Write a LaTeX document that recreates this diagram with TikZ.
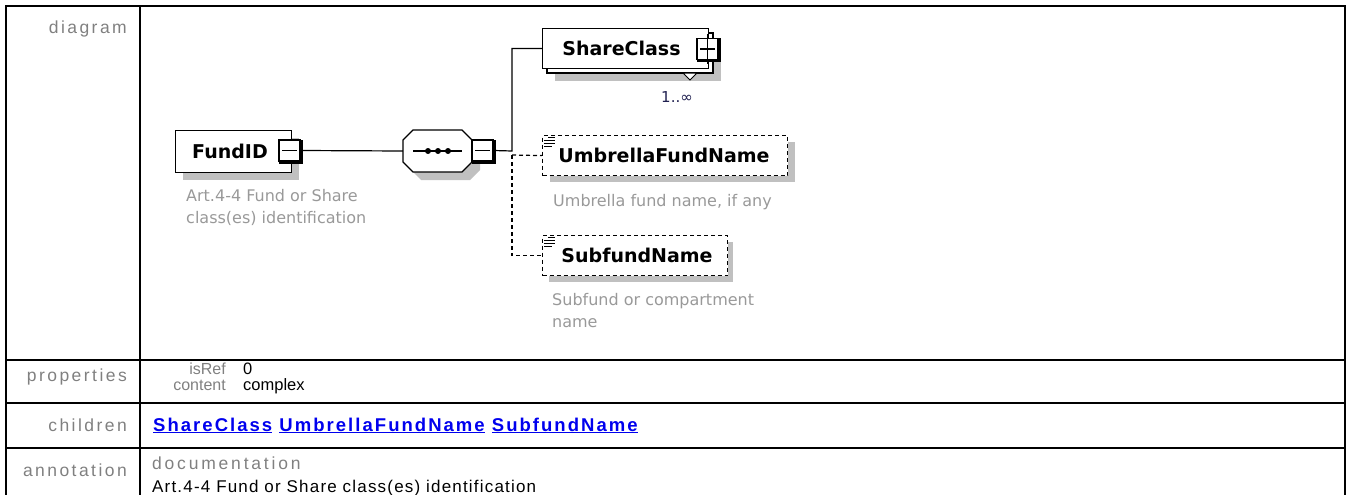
\documentclass[tikz,border=0pt]{standalone}
\usepackage{fontspec}
\setmainfont{Liberation Sans}
\newfontfamily\tlab[LetterSpace=14]{Liberation Sans}
\newfontfamily\tdoc[LetterSpace=16]{Liberation Sans}
\newfontfamily\tart[LetterSpace=7]{Liberation Sans}
\newfontfamily\tlink[LetterSpace=11]{Liberation Sans}
\newfontfamily\djs{DejaVu Sans}
\definecolor{lblgray}{HTML}{808080}
\definecolor{descgray}{HTML}{999999}
\definecolor{shadowgray}{HTML}{C0C0C0}
\definecolor{linkblue}{HTML}{0000EE}
\definecolor{occcol}{HTML}{202050}
\tikzset{
  tline/.style={line width=2pt, black},
  elbox/.style={draw=black, line width=1.2pt, fill=white, inner sep=0pt, anchor=north west},
  dashbox/.style={elbox, dash pattern=on 4pt off 3pt},
  conn/.style={line width=1.2pt},
  dconn/.style={line width=1.2pt, dash pattern=on 4pt off 3pt},
  ename/.style={font=\djs\bfseries\fontsize{19}{22}\selectfont, text=black, inner sep=0pt},
  desc/.style={font=\djs\fontsize{16}{22}\selectfont, text=descgray, align=left, anchor=base west, inner sep=0pt},
  rowlab/.style={font=\tlab\fontsize{17.5}{19}\selectfont, text=lblgray, anchor=base east, inner sep=0pt},
  proplab/.style={font=\fontsize{16}{19}\selectfont, text=lblgray, anchor=base east, inner sep=0pt},
  propval/.style={font=\fontsize{16.5}{19}\selectfont, text=black, anchor=base west, inner sep=0pt},
  minbox/.style={draw=black, line width=1.2pt, fill=white, minimum size=21pt, inner sep=0pt},
}
\begin{document}
\begin{tikzpicture}[x=1pt,y=-1pt]
\useasboundingbox (0,0) rectangle (1346,495);
% ---------- table ----------
\draw[tline] (5,6.5) -- (1346,6.5);
\draw[tline] (6,6.5) -- (6,495);
\draw[tline] (1345,6.5) -- (1345,495);
\draw[tline] (140,6.5) -- (140,495);
\draw[tline] (6,360) -- (1345,360);
\draw[tline] (6,403) -- (1345,403);
\draw[tline] (6,448) -- (1345,448);
\node[rowlab] (lDiag) at (127,34) {diagram};
\node[rowlab] (lProp) at (127,381) {properties};
\node[rowlab] (lChild) at (127,431) {children};
\node[rowlab] (lAnn) at (127,476) {annotation};
\node[proplab] (pIsRef) at (226,374) {isRef};
\node[proplab] (pContent) at (226,390) {content};
\node[propval] (vIsRef) at (243,374) {0};
\node[propval] (vContent) at (243,390) {complex};
\node[font=\tlink\bfseries\fontsize{18.5}{20}\selectfont, text=linkblue, anchor=base west, inner sep=0pt] (links) at (153,431)
  {\underline{ShareClass} \underline{UmbrellaFundName} \underline{SubfundName}};
\node[font=\tdoc\fontsize{17.5}{19}\selectfont, text=lblgray, anchor=base west, inner sep=0pt] (docl) at (152,469) {documentation};
\node[font=\tart\fontsize{17}{19}\selectfont, text=black, anchor=base west, inner sep=0pt] (doct) at (152,492) {Art.4-4 Fund or Share class(es) identification};
% ---------- FundID ----------
\fill[shadowgray] (183,138) rectangle (299,180);
\node[elbox, minimum width=116pt, minimum height=42pt] (fundid) at (175,130) {};
\node[ename] (fundidT) at (230,151) {FundID};
\node[minbox] (fundidM) at (289.5,150.5) {};
\draw[line width=2.4pt] ([shift={(0.5,1.2)}]fundidM.south west) -- ([shift={(1.2,1.2)}]fundidM.south east) -- ([shift={(1.2,0.5)}]fundidM.north east);
\draw[line width=1.2pt] ([xshift=4pt]fundidM.west) -- ([xshift=-4pt]fundidM.east);
\node[desc] (fundidD) at (186,223) {Art.4-4 Fund or Share\\class(es) identification};
% ---------- sequence ----------
\fill[shadowgray, shift={(8,8)}] (413,130) -- (462,130) -- (472,140) -- (472,162) -- (462,172) -- (413,172) -- (403,162) -- (403,140) -- cycle;
\draw[line width=1.2pt, fill=white] (413,130) -- (462,130) -- (472,140) -- (472,162) -- (462,172) -- (413,172) -- (403,162) -- (403,140) -- cycle;
\node[minimum width=69pt, minimum height=42pt, inner sep=0pt] (seq) at (437.5,151) {};
\draw[line width=1.2pt] (413,151) -- (462,151);
\foreach \dx in {428,438,448} \fill (\dx,151) circle (3pt);
\node[minbox] (seqM) at (482.5,150.5) {};
\draw[line width=2.4pt] ([shift={(0.5,1.2)}]seqM.south west) -- ([shift={(1.2,1.2)}]seqM.south east) -- ([shift={(1.2,0.5)}]seqM.north east);
\draw[line width=1.2pt] ([xshift=4pt]seqM.west) -- ([xshift=-4pt]seqM.east);
\draw[conn] (fundidM.east) -- (seq.west);
% ---------- ShareClass ----------
\fill[shadowgray] (555,41) rectangle (721,81);
\draw[line width=1.2pt, fill=white] (547,33) rectangle (713,73);
\node[elbox, minimum width=166pt, minimum height=40pt] (share) at (542,28) {};
\node[ename] (shareT) at (621.5,48) {ShareClass};
\draw[line width=1pt, fill=white] (683,73) -- (697,73) -- (690,80) -- cycle;
\node[minbox] (shareP) at (707.5,49) {};
\draw[line width=2.4pt] ([shift={(0.5,1.2)}]shareP.south west) -- ([shift={(1.2,1.2)}]shareP.south east) -- ([shift={(1.2,0.5)}]shareP.north east);
\draw[line width=1.2pt] ([xshift=4pt]shareP.west) -- ([xshift=-4pt]shareP.east);
\draw[line width=1.2pt] ([yshift=4pt]shareP.north) -- ([yshift=-4pt]shareP.south);
\node[font=\djs\fontsize{15}{18}\selectfont, text=occcol, inner sep=0pt] (shareO) at (677,97) {1..∞};
% ---------- UmbrellaFundName ----------
\fill[shadowgray] (550,142) rectangle (795,182);
\node[dashbox, minimum width=245pt, minimum height=40pt] (umb) at (542,135) {};
\node[ename] (umbT) at (664,155) {UmbrellaFundName};
\draw[line width=1pt] (548,137.5) -- (555,137.5) (544,140.5) -- (555,140.5) (544,143.5) -- (555,143.5) (544,146.5) -- (552,146.5);
\node[desc] (umbD) at (553,206) {Umbrella fund name, if any};
% ---------- SubfundName ----------
\fill[shadowgray] (549,242) rectangle (733,282);
\node[dashbox, minimum width=185pt, minimum height=40pt] (sub) at (542,235) {};
\node[ename] (subT) at (637,255) {SubfundName};
\draw[line width=1pt] (548,237.5) -- (555,237.5) (544,240.5) -- (555,240.5) (544,243.5) -- (555,243.5) (544,246.5) -- (552,246.5);
\node[desc] (subD) at (552,327) {Subfund or compartment\\name};
% ---------- connectors ----------
\coordinate (jn) at (512,151);
\coordinate (jd) at (512,155);
\draw[conn] (seqM.east) -- (jn) |- (share.west);
\draw[dconn] (jd) -- (umb.west);
\draw[dconn] (jd) |- (sub.west);
\end{tikzpicture}
\end{document}
